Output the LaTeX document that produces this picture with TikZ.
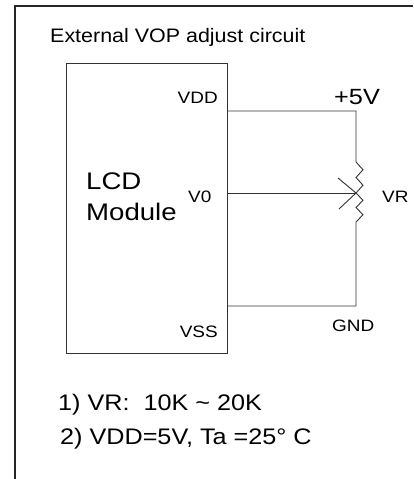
\documentclass[tikz,border=0pt]{standalone}
\usepackage{fontspec}
\newfontfamily\af[FakeStretch=1.15]{Liberation Sans}
\newfontfamily\aft[FakeStretch=1.10]{Liberation Sans}
\newfontfamily\afn[FakeStretch=1.12]{Liberation Sans}
\begin{document}
\begin{tikzpicture}[x=1pt,y=-1pt,
  wire/.style={draw=black!80,line width=0.9pt},
  frame/.style={draw=black!85,line width=1.1pt},
  lbl/.style={inner sep=0pt,font=\af\fontsize{16.5}{18}\selectfont},
  big/.style={inner sep=0pt,font=\af\fontsize{24}{28}\selectfont},
  ttl/.style={inner sep=0pt,font=\aft\fontsize{19.5}{24}\selectfont},
  note/.style={inner sep=0pt,font=\afn\fontsize{22.5}{26}\selectfont}]
\useasboundingbox (0,0) rectangle (413,479);
% frame
\draw[frame] (413,6) -- (15,6) -- (15,479);
% LCD module box
\node[wire,draw,rectangle,minimum width=161pt,minimum height=290pt,anchor=north west,inner sep=0pt] (lcd) at (66,63) {};
\node[ttl,anchor=base west] (title) at (50,42) {External VOP adjust circuit};
\node[big,anchor=base west] (l1) at (86,189) {LCD};
\node[big,anchor=base west] (l2) at (86,220) {Module};
\node[lbl,anchor=base east] (vdd) at (218,103) {VDD};
\node[lbl,anchor=base west] (v0) at (188,202) {V0};
\node[lbl,anchor=base east] (vss) at (218,337) {VSS};
\node[inner sep=0pt,font=\af\fontsize{22}{26}\selectfont,anchor=base west] (p5) at (334,104) {+5V};
\node[lbl,anchor=base west] (gnd) at (332,331) {GND};
\node[lbl,anchor=base west] (vr) at (382,202) {VR};
\node[note,anchor=base west] (n1) at (58,410) {1) VR:\ \ 10K \textasciitilde\ 20K};
\node[note,anchor=base west] (n2) at (60,444) {2) VDD=5V, Ta =25° C};
% pins
\coordinate (pvdd) at (227,111);
\coordinate (pv0) at (227,193);
\coordinate (pvss) at (227,306);
\coordinate (rt) at (356,111);
\coordinate (rz1) at (356,162);
\coordinate (rw) at (356,193);
\coordinate (rz2) at (356,222);
\coordinate (rb) at (356,306);
% wires
\draw[wire] (pvdd) -- (rt) -- (rz1)
  -- ++(7,7.75) -- ++(-7,7.75) -- ++(7,7.75) -- (rw)
  -- ++(7,7.25) -- ++(-7,7.25) -- ++(7,7.25) -- (rz2) -- (rb) -- (pvss);
\draw[wire] (pv0) -- (rw);
\draw[wire] (338,178) -- (rw) -- (339,209);
\end{tikzpicture}
\end{document}
